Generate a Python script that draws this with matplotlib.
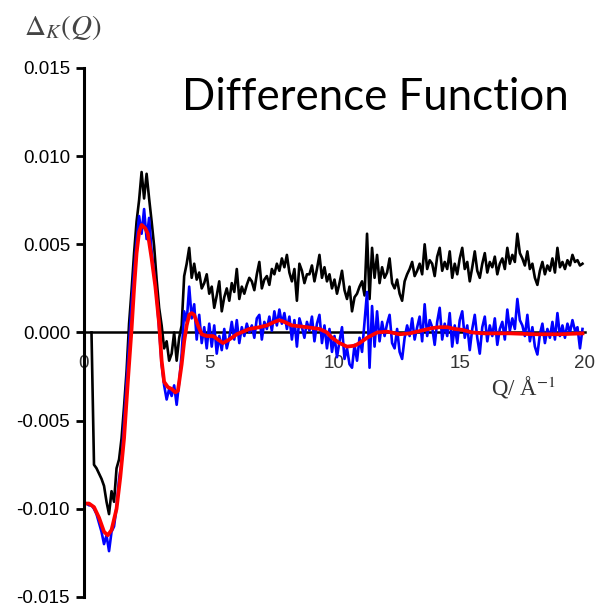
import numpy as np
import matplotlib
matplotlib.use('Agg')
import matplotlib.pyplot as plt

plt.rcParams['mathtext.fontset'] = 'stix'

# values in units of 1e-3
black = [
    0.0, -7.5, -7.7, -8.0, -8.3, -8.7, -9.6, -10.3, -9.0, -9.6,          # 0.3 - 1.2
    -7.7, -7.2, -6.0, -4.2, -2.2, 0.5, 2.4, 4.5, 6.3, 7.5,               # 1.3 - 2.2
    9.1, 7.6, 9.0, 7.6, 6.3, 4.9, 3.0, 1.4, 0.4, -0.9,                   # 2.3 - 3.2
    -0.5, -1.6, -1.2, 0.0, -1.6, -0.3, 0.4, 3.2, 3.9, 4.8,               # 3.3 - 4.2
    3.1, 3.9, 3.0, 3.4, 2.5, 2.8, 3.3, 2.2, 2.6, 1.4,                    # 4.3 - 5.2
    2.1, 2.9, 1.2, 2.0, 2.5, 1.8, 2.8, 2.3, 3.6, 1.9,                    # 5.3 - 6.2
    2.6, 2.2, 2.7, 3.1, 2.9, 2.4, 3.3, 4.0, 2.5, 3.0,                    # 6.3 - 7.2
    3.2, 2.7, 3.6, 3.3, 3.9, 3.5, 4.2, 3.7, 4.4, 3.4,                    # 7.3 - 8.2
    2.9, 3.6, 1.8, 3.9, 3.5, 2.8, 3.3, 3.3, 3.8, 2.9,                    # 8.3 - 9.2
    3.6, 4.4, 3.1, 3.7, 2.9, 3.3, 2.5, 3.0, 2.2, 2.8,                    # 9.3 - 10.2
    3.5, 2.4, 1.9, 2.6, 1.2, 2.0, 2.2, 2.6, 2.9, 2.1,                    # 10.3 - 11.2
    5.6, 1.9, 4.8, 3.1, 4.4, 2.8, 3.7, 3.1, 3.4, 4.2,                    # 11.3 - 12.2
    2.8, 2.5, 3.0, 2.2, 1.8, 2.9, 3.3, 3.6, 4.0, 3.2,                    # 12.3 - 13.2
    3.5, 3.9, 3.3, 5.0, 3.6, 4.1, 3.9, 3.2, 4.3, 4.8,                    # 13.3 - 14.2
    3.5, 4.0, 3.6, 4.6, 3.1, 3.9, 3.3, 4.2, 4.8, 3.6,                    # 14.3 - 15.2
    4.0, 2.9, 3.7, 4.6, 3.5, 3.1, 3.9, 4.5, 3.4, 4.0,                    # 15.3 - 16.2
    3.7, 4.3, 3.3, 3.9, 4.2, 3.6, 4.8, 3.9, 4.4, 4.0,                    # 16.3 - 17.2
    5.6, 4.5, 4.2, 3.8, 4.6, 3.6, 3.9, 3.1, 2.7, 3.5,                    # 17.3 - 18.2
    4.0, 3.3, 3.8, 3.5, 4.2, 3.4, 4.8, 3.7, 4.0, 3.6,                    # 18.3 - 19.2
    4.1, 3.8, 4.4, 4.0, 4.1, 3.8, 3.9,                                   # 19.3 - 19.9
]

blue = [
    -9.7, -9.7, -9.8, -9.8, -10.0, -10.3, -10.8, -11.3, -12.0, -11.5,    # 0.0 - 0.9
    -12.4, -11.3, -11.0, -9.9, -8.3, -7.4, -5.0, -2.8, -0.6, 1.6,        # 1.0 - 1.9
    3.5, 5.2, 6.6, 5.6, 7.0, 5.3, 6.5, 4.6, 3.4, 2.0,                    # 2.0 - 2.9
    0.2, -1.8, -3.0, -3.8, -3.2, -3.6, -3.0, -4.1, -2.8, -1.2,           # 3.0 - 3.9
    1.2, 0.6, 2.6, 0.8, 1.6, -0.4, 1.0, -0.6, 0.3, -0.9,                 # 4.0 - 4.9
    0.5, -0.8, 0.4, -1.2, -0.2, -1.0, 0.2, -0.9, -0.3, 0.6,              # 5.0 - 5.9
    -0.4, 0.7, -0.6, 0.3, -0.2, 0.5, 0.0, 0.4, -0.3, 0.8,                # 6.0 - 6.9
    1.0, -0.4, 0.6, 0.2, 0.9, 0.1, 1.2, 0.4, 1.3, 0.5,                   # 7.0 - 7.9
    1.1, 0.2, 0.9, -0.4, 0.7, -0.8, 0.8, 0.3, -0.3, 0.6,                 # 8.0 - 8.9
    0.1, 0.9, -0.5, 0.5, 1.0, -0.6, 0.4, -0.9, 0.2, -1.1,                # 9.0 - 9.9
    -0.2, -1.4, -0.5, 0.3, -1.5, -0.9, -1.8, -2.0, -0.7, -1.6,           # 10.0 - 10.9
    -0.3, -1.1, 0.6, 2.3, -2.0, 1.5, -0.8, 1.2, -0.5, 0.6,               # 11.0 - 11.9
    -0.2, 0.5, 1.0, -0.6, -0.9, 0.2, -1.1, -1.5, -0.3, 0.4,              # 12.0 - 12.9
    -0.2, 0.8, -0.4, 0.3, 0.9, -0.5, 1.6, -0.2, 0.7, 0.3,                # 13.0 - 13.9
    -0.7, 0.6, 1.4, -0.4, 0.5, -0.2, 1.1, -0.8, 0.4, -0.6,               # 14.0 - 14.9
    0.7, 1.2, -0.3, 0.4, -1.0, 0.2, 1.0, -0.3, -1.2, 0.3,                # 15.0 - 15.9
    0.9, -0.5, 0.4, -0.2, 0.8, -0.7, 0.2, 0.6, -0.4, 1.3,                # 16.0 - 16.9
    0.1, 0.8, 0.2, 1.9, 0.7, 0.4, -0.2, 1.0, -0.5, 0.3,                  # 17.0 - 17.9
    -0.8, -1.25, -0.1, 0.5, -0.6, 0.2, -0.3, 0.6, -0.4, 1.1,             # 18.0 - 18.9
    -0.2, 0.4, -0.3, 0.5, 0.0, 0.7, 0.1, 0.3, -0.9, 0.2,                 # 19.0 - 19.9
]

q_red = [0.0, 0.2, 0.4, 0.6, 0.8, 0.95, 1.1, 1.3, 1.45, 1.6, 1.75, 1.9, 2.0,
         2.1, 2.2, 2.3, 2.45, 2.55, 2.7, 2.85, 3.0, 3.1, 3.2, 3.35, 3.5,
         3.65, 3.75, 3.9, 4.0, 4.1, 4.2, 4.3, 4.4, 4.55, 4.7, 4.9, 5.15,
         5.35, 5.55, 5.8, 6.1, 6.6, 7.0, 7.3, 7.6, 7.8, 8.0, 8.3, 8.9, 9.4,
         9.7, 9.9, 10.2, 10.5, 10.8, 11.0, 11.3, 11.7, 12.1, 12.6, 13.0,
         13.3, 13.6, 13.9, 14.2, 14.5, 14.8, 15.1, 15.5, 16.0, 17.0, 18.0,
         19.0, 19.9]
red = [-9.7, -9.7, -9.9, -10.5, -11.3, -11.5, -11.2, -10.0, -8.2, -6.0, -2.8,
       0.2, 2.5, 4.5, 5.7, 6.1, 5.9, 5.6, 4.2, 2.6, 0.5, -1.6, -2.8, -3.1,
       -3.2, -3.4, -3.3, -1.8, -0.5, 0.4, 1.0, 1.1, 1.0, 0.4, -0.1, -0.2,
       -0.2, -0.4, -0.6, -0.4, -0.1, 0.2, 0.3, 0.4, 0.6, 0.7, 0.6, 0.4, 0.3,
       0.2, 0.0, -0.3, -0.6, -0.8, -0.75, -0.6, -0.3, 0.0, 0.05, -0.1, -0.05,
       0.05, 0.15, 0.25, 0.3, 0.3, 0.2, 0.15, 0.0, -0.05, -0.05, -0.1, -0.1,
       -0.05]

q_black = np.linspace(0.3, 19.9, len(black))
q_blue = np.linspace(0.0, 19.9, len(blue))

fig = plt.figure(figsize=(5.99, 6.07), dpi=100)
ax = fig.add_axes([0.1402, 0.0165, 0.8364, 0.8715])

ax.plot(q_black, np.array(black) * 1e-3, color='black', lw=1.9)
ax.plot(q_blue, np.array(blue) * 1e-3, color='#0000ff', lw=1.9)
ax.plot(q_red, np.array(red) * 1e-3, color='#ff0000', lw=2.7)

ax.set_xlim(0, 20)
ax.set_ylim(-0.015, 0.015)
ax.spines['top'].set_visible(False)
ax.spines['right'].set_visible(False)
ax.spines['bottom'].set_position(('data', 0))
ax.spines['bottom'].set_linewidth(1.8)
ax.spines['bottom'].set_zorder(0.5)
ax.spines['left'].set_linewidth(2.2)

yt = [-0.015, -0.010, -0.005, 0.0, 0.005, 0.010, 0.015]
ax.set_yticks(yt)
ax.set_yticklabels(['%.3f' % v for v in yt], fontfamily='Liberation Sans', fontsize=13.5)
ax.tick_params(axis='y', direction='out', length=6, width=2, pad=4)
ax.set_xticks([0, 5, 10, 15, 20])
ax.set_xticklabels(['0', '5', '10', '15', '20'], fontfamily='Liberation Sans', fontsize=13.5, color='#333333')
ax.tick_params(axis='x', length=0, pad=16)

fig.text(0.04, 0.955, r'$\Delta_K(Q)$', fontsize=21, color='#444444', va='center', ha='left')
fig.text(0.874, 0.361, r'Q/ Å$^{-1}$', fontsize=16.5, family='Liberation Serif', color='#333333',
         va='center', ha='center')
fig.text(0.626, 0.84, 'Difference Function', fontsize=31.5, family='Lato', va='center', ha='center')

fig.savefig('out.png', dpi=100)
